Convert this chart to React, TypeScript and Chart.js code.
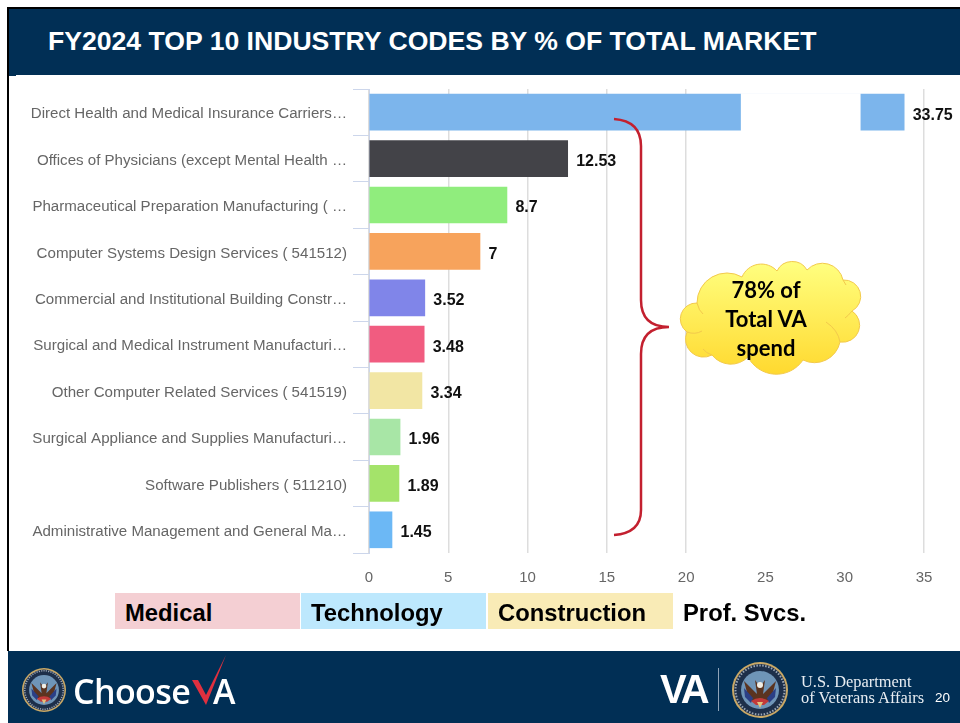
import React, { useEffect, useRef } from "react";
import { Chart, registerables } from "chart.js";

Chart.register(...registerables);

const categories = [
  "Direct Health and Medical Insurance Carriers…",
  "Offices of Physicians (except Mental Health …",
  "Pharmaceutical Preparation Manufacturing ( …",
  "Computer Systems Design Services ( 541512)",
  "Commercial and Institutional Building Constr…",
  "Surgical and Medical Instrument Manufacturi…",
  "Other Computer Related Services ( 541519)",
  "Surgical Appliance and Supplies Manufacturi…",
  "Software Publishers ( 511210)",
  "Administrative Management and General Ma…",
];
const shares = [33.75, 12.53, 8.7, 7, 3.52, 3.48, 3.34, 1.96, 1.89, 1.45];
const valueLabels = ["33.75", "12.53", "8.7", "7", "3.52", "3.48", "3.34", "1.96", "1.89", "1.45"];
const barColors = ["#7cb5ec", "#434348", "#90ed7d", "#f7a35c", "#8085e9", "#f15c80", "#f2e6a4", "#a8e6a6", "#a4e36a", "#6cb8f5"];
const hiddenGridValues = [25, 30];
const axisBreak = [23.45, 31];

const legendItems = [
  { label: "Medical", left: 115, width: 185, bg: "#f4cfd3" },
  { label: "Technology", left: 301, width: 185, bg: "#bde8fd" },
  { label: "Construction", left: 488, width: 185, bg: "#f9ebb6" },
  { label: "Prof. Svcs.", left: 673, width: 185, bg: "transparent" },
];

const NAVY = "#012f55";

const overlayPlugin = {
  id: "overlay",
  afterDatasetsDraw(chart: any) {
    const { ctx, scales } = chart;
    const meta = chart.getDatasetMeta(0);
    ctx.save();
    // axis break through the first bar
    const first = meta.data[0];
    ctx.fillStyle = "#ffffff";
    ctx.fillRect(
      scales.x.getPixelForValue(axisBreak[0]),
      first.y - 19,
      scales.x.getPixelForValue(axisBreak[1]) - scales.x.getPixelForValue(axisBreak[0]),
      38
    );
    // value labels
    ctx.fillStyle = "#111111";
    ctx.font = "bold 16px 'Liberation Sans'";
    ctx.textBaseline = "middle";
    ctx.textAlign = "left";
    meta.data.forEach((bar: any, i: number) => {
      ctx.fillText(valueLabels[i], bar.x + 8.5, bar.y + 3);
    });
    ctx.restore();
  },
};

function Seal({ cx, cy, r }: { cx: number; cy: number; r: number }) {
  return (
    <g transform={`translate(${cx} ${cy}) scale(${r / 28})`}>
      <circle r="28" fill="#c9a866" />
      <circle r="26" fill="#1d2f4a" />
      <circle r="24.5" fill="none" stroke="#9aa6b5" strokeWidth="2" strokeDasharray="1.5 1.5" />
      <circle r="19" fill="#6f95b8" />
      <path d="M-16-9 L-3 4 L-5 -10 L0 -3 L5 -10 L3 4 L16 -9 L11 10 L0 15 L-11 10 Z" fill="#5b3420" />
      <path d="M-16 -2 L-7 8 L-9 13 L-15 7 Z" fill="#2b3f86" />
      <path d="M16 -2 L7 8 L9 13 L15 7 Z" fill="#2b3f86" />
      <path d="M-9 11 Q0 5 9 11 L4 15 L-4 15 Z" fill="#c23a3a" />
      <circle cy="-5" r="3" fill="#f2efe6" />
      <path d="M-3 12 L3 12 L0 18 Z" fill="#e3c37e" />
    </g>
  );
}

function Cloud() {
  const d =
    "M697 303 A30 30 0 0 1 742 277 A21 21 0 0 1 777 271 A17 17 0 0 1 807 270 A21 21 0 0 1 843 280 A16.5 16.5 0 0 1 852 311 " +
    "A17 17 0 0 1 840 342 A26 26 0 0 1 803 360 A32 32 0 0 1 748 357 A24 24 0 0 1 712 355 A18 18 0 0 1 687 332 A16 16 0 0 1 697 303 Z";
  return (
    <g>
      <defs>
        <linearGradient id="cloudFill" x1="0" y1="0" x2="0" y2="1">
          <stop offset="0" stopColor="#ffff80" />
          <stop offset="1" stopColor="#ffd92f" />
        </linearGradient>
      </defs>
      <path d={d} fill="url(#cloudFill)" stroke="#f2c94c" strokeWidth="1" />
      <path
        d="M697 303 Q699 311 703 314 M687 332 Q695 335 702 331 M712 355 Q706 353 703 349 M748 357 Q746 352 747 347 M826 322 Q838 330 840 342 M852 311 Q848 316 845 318 M843 280 L846 285"
        fill="none"
        stroke="#f2c94c"
        strokeWidth="1"
      />
    </g>
  );
}

export default function App() {
  const ref = useRef<HTMLCanvasElement>(null);

  useEffect(() => {
    if (!ref.current) return;
    const chart = new Chart(ref.current, {
      type: "bar",
      data: {
        labels: categories,
        datasets: [{ data: shares, backgroundColor: barColors, barThickness: 36, borderWidth: 0 }],
      },
      plugins: [overlayPlugin],
      options: {
        indexAxis: "y",
        animation: false,
        responsive: false,
        layout: { padding: { left: 0, top: 89, right: 36, bottom: 130 } },
        plugins: { legend: { display: false }, tooltip: { enabled: false }, title: { display: false } },
        scales: {
          x: {
            type: "linear",
            min: 0,
            max: 35,
            border: { display: false },
            grid: {
              drawTicks: false,
              lineWidth: 1.5,
              color: (c: any) => (hiddenGridValues.includes(c.tick?.value) ? "rgba(0,0,0,0)" : "#dddddd"),
            },
            afterFit: (s: any) => {
              s.height = 40;
            },
            ticks: {
              stepSize: 5,
              padding: 16,
              maxRotation: 0,
              color: "#666666",
              font: { family: "'Liberation Sans'", size: 15 },
            },
          },
          y: {
            type: "category",
            border: { display: true, color: "#ccd6eb", width: 1 },
            grid: { offset: true, drawOnChartArea: false, drawTicks: true, tickLength: 16, color: "#ccd6eb", lineWidth: 1 },
            afterFit: (s: any) => {
              s.width = 369;
            },
            ticks: {
              autoSkip: false,
              padding: 6,
              labelOffset: 2,
              color: "#666666",
              font: { family: "'Liberation Sans'", size: 15.1 },
            },
          },
        },
      },
    } as any);
    return () => chart.destroy();
  }, []);

  const sans = "'Liberation Sans', Arial, sans-serif";
  return (
    <div style={{ position: "fixed", left: 0, top: 0, width: 960, height: 723, background: "#fff", overflow: "hidden" }}>
      <canvas ref={ref} width={960} height={723} style={{ position: "absolute", left: 0, top: 0, display: "block" }} />

      {/* slide frame */}
      <div style={{ position: "absolute", left: 7, top: 7, width: 953, height: 2, background: "#000" }} />
      <div style={{ position: "absolute", left: 7, top: 7, width: 2, height: 644, background: "#000" }} />
      <div style={{ position: "absolute", left: 9, top: 9, width: 951, height: 66, background: NAVY }} />
      <div style={{ position: "absolute", left: 9, top: 75, width: 7, height: 1, background: NAVY }} />
      <div
        style={{
          position: "absolute",
          left: 48,
          top: 24,
          color: "#fff",
          fontFamily: sans,
          fontWeight: 700,
          fontSize: 26.6,
          lineHeight: "34px",
          whiteSpace: "nowrap",
        }}
      >
        FY2024 TOP 10 INDUSTRY CODES BY % OF TOTAL MARKET
      </div>

      {/* category strip */}
      {legendItems.map((it) => (
        <div
          key={it.label}
          style={{
            position: "absolute",
            left: it.left,
            top: 593,
            width: it.width,
            height: 36,
            background: it.bg,
            color: "#000",
            fontFamily: sans,
            fontWeight: 700,
            fontSize: 23.8,
            lineHeight: "40px",
            paddingLeft: 10,
            boxSizing: "border-box",
            whiteSpace: "nowrap",
          }}
        >
          {it.label}
        </div>
      ))}

      {/* footer */}
      <div style={{ position: "absolute", left: 8, top: 651, width: 952, height: 72, background: NAVY }} />

      <svg width={960} height={723} style={{ position: "absolute", left: 0, top: 0 }}>
        <path
          d="M614 119 Q641 121 641 146 L641 300 Q641 327 669 327 Q641 327 641 354 L641 510 Q641 533 614 535"
          fill="none"
          stroke="#c3202f"
          strokeWidth="2.5"
        />
        <Cloud />
        <Seal cx={44} cy={690} r={22} />
        <Seal cx={760} cy={690} r={28} />
        <line x1="718.5" y1="668" x2="718.5" y2="711" stroke="#8fa3b8" strokeWidth="1" />
        <path d="M192 680 L198 680 L206 695 L226 655 L206 705 Z" fill="#e0303f" />
      </svg>

      {["78% of", "Total VA", "spend"].map((t, i) => (
        <div
          key={t}
          style={{
            position: "absolute",
            left: 686,
            width: 160,
            top: 275 + i * 29,
            textAlign: "center",
            fontFamily: "Lato, 'Open Sans', sans-serif",
            fontWeight: 700,
            fontSize: 22,
            lineHeight: "29px",
            color: "#000",
          }}
        >
          {t}
        </div>
      ))}

      <div style={{ position: "absolute", left: 73, top: 669, color: "#fff", fontFamily: "'Open Sans', sans-serif", fontWeight: 600, fontSize: 34, lineHeight: "44px", letterSpacing: -0.6 }}>
        Choose
      </div>
      <div style={{ position: "absolute", left: 213, top: 669, color: "#fff", fontFamily: "'Open Sans', sans-serif", fontWeight: 600, fontSize: 34, lineHeight: "44px" }}>
        A
      </div>
      <div style={{ position: "absolute", left: 660, top: 667, color: "#fff", fontFamily: sans, fontWeight: 700, fontSize: 40, lineHeight: "44px", letterSpacing: -3 }}>
        VA
      </div>
      <div style={{ position: "absolute", left: 801, top: 674, color: "#e8edf2", fontFamily: "'Liberation Serif', serif", fontSize: 16.4, lineHeight: "16px", whiteSpace: "nowrap" }}>
        U.S. Department
        <br />
        of Veterans Affairs
      </div>
      <div style={{ position: "absolute", left: 935, top: 690, color: "#fff", fontFamily: sans, fontSize: 13.5, lineHeight: "16px" }}>20</div>
    </div>
  );
}
